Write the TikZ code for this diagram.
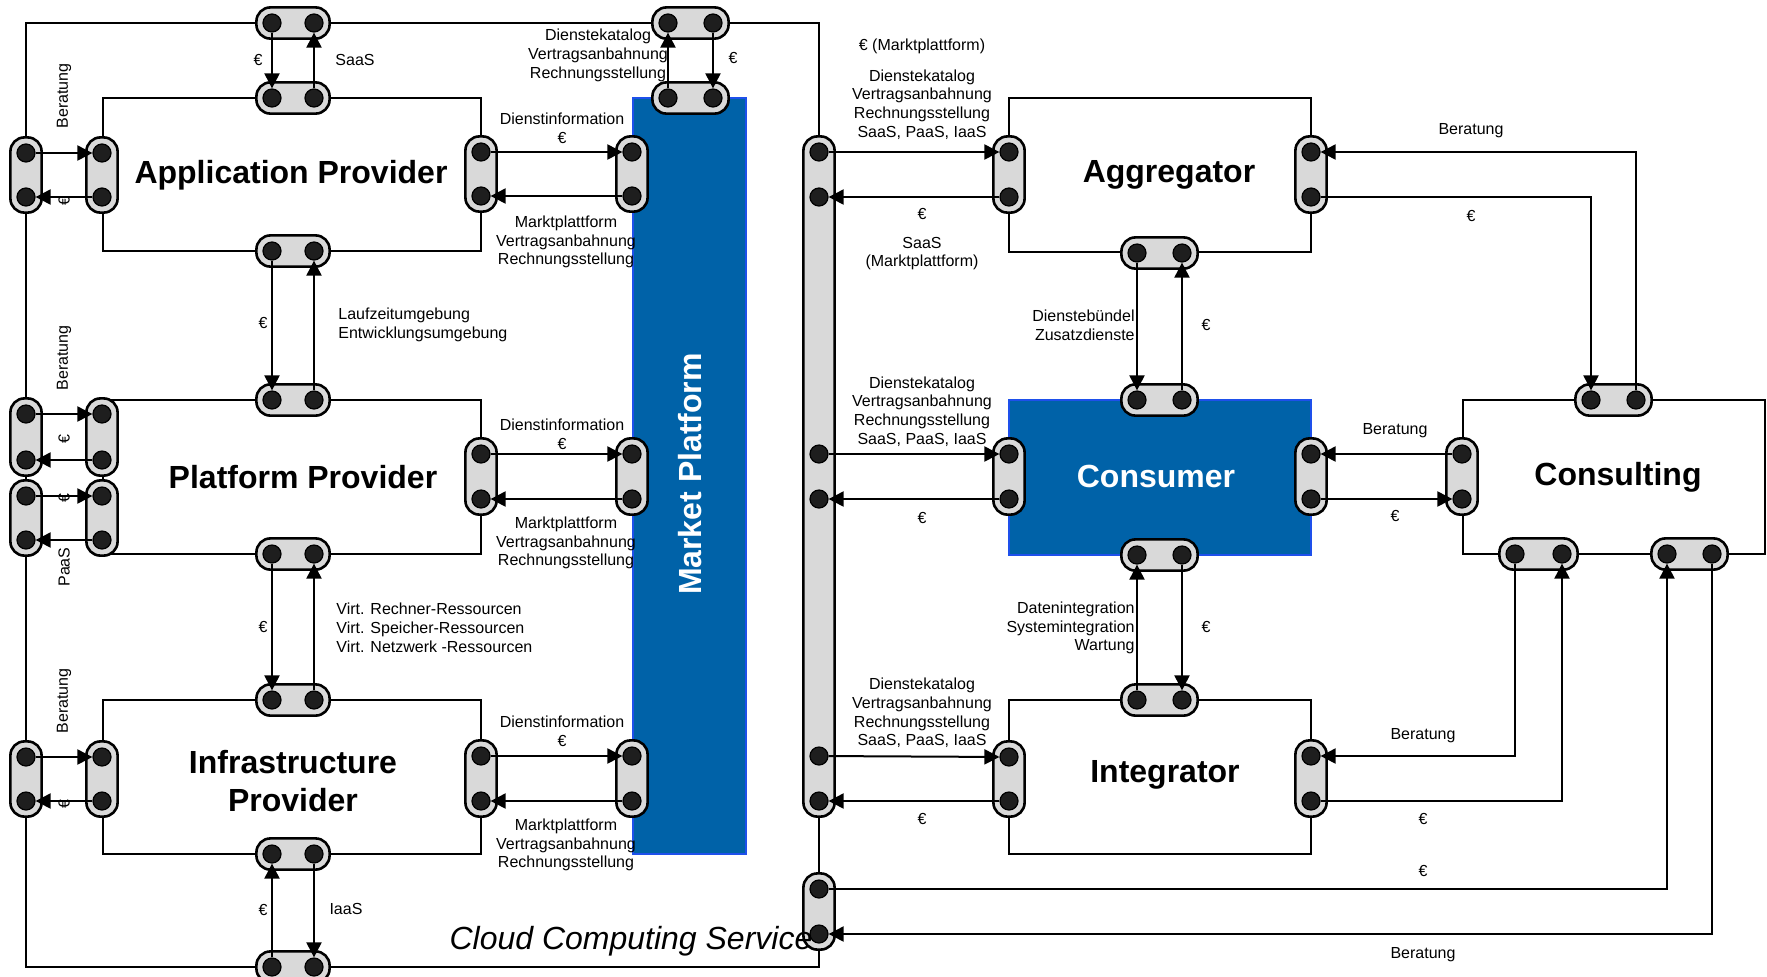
\documentclass[tikz,border=0pt]{standalone}
\usepackage{fontspec}
\setmainfont{Liberation Sans}
\usetikzlibrary{arrows.meta,fit}

\definecolor{portgrey}{RGB}{217,217,217}
\definecolor{dotblack}{RGB}{30,30,30}
\definecolor{mpblue}{RGB}{0,98,168}
\definecolor{mpedge}{RGB}{30,80,235}

\pgfdeclarelayer{frames}
\pgfdeclarelayer{ports}
\pgfsetlayers{frames,ports,main}

\tikzset{
  unit/.style={draw, rectangle, line width=1pt, inner sep=0pt},
  bluebox/.style={unit, fill=mpblue, draw=mpedge, line width=0.8pt},
  dot/.style={circle, fill=dotblack, draw=black, line width=0.6pt, minimum size=9pt, inner sep=0pt},
  pill/.style={draw, fill=portgrey, line width=1.3pt, rounded corners=7pt, inner sep=3pt},
  flow/.style={line width=1pt, -{Triangle[length=7.5pt,width=7.5pt]}},
  lbl/.style={font=\fontsize{8}{9.4}\selectfont, inner sep=0pt, align=center},
  title/.style={font=\fontsize{16}{19}\selectfont\bfseries, inner sep=0pt, align=center}
}

\newcommand{\hport}[4]{%
  \node[dot] (#1-1) at (#2,#4) {};
  \node[dot] (#1-2) at (#3,#4) {};
  \begin{pgfonlayer}{ports}
    \node[pill, fit=(#1-1)(#1-2)] (#1) {};
  \end{pgfonlayer}}
\newcommand{\vport}[4]{%
  \node[dot] (#1-1) at (#2,#3) {};
  \node[dot] (#1-2) at (#2,#4) {};
  \begin{pgfonlayer}{ports}
    \node[pill, fit=(#1-1)(#1-2)] (#1) {};
  \end{pgfonlayer}}

\begin{document}
\begin{tikzpicture}[x=0.5pt,y=-0.5pt]
\useasboundingbox (0,0) rectangle (1767,976);

% boxes
\begin{pgfonlayer}{frames}
  \node[unit, fit={(26,23) (819,967)}] (cloud) {};
  \node[unit, fit={(103,98) (481,251)}] (app) {};
  \node[unit, fit={(103,400) (481,554)}] (plat) {};
  \node[unit, fit={(103,700) (481,854)}] (infra) {};
  \node[bluebox, fit={(633,98) (746,854)}] (market) {};
  \node[unit, fit={(1009,98) (1311,252)}] (aggr) {};
  \node[bluebox, fit={(1009,400) (1311,555)}] (cons) {};
  \node[unit, fit={(1009,700) (1311,854)}] (integ) {};
  \node[unit, fit={(1463,400) (1765,554)}] (consult) {};
\end{pgfonlayer}

\node[title] (appT) at (291,175) {Application Provider};
\node[title] (platT) at (303,477) {Platform Provider};
\node[title] (infraT) at (293,781) {Infrastructure\\Provider};
\node[title, white, rotate=90] (marketT) at (690,474) {Market Platform};
\node[title] (aggrT) at (1169,175) {Aggregator};
\node[title, white] (consT) at (1156,476) {Consumer};
\node[title] (integT) at (1165,775) {Integrator};
\node[title] (consultT) at (1618,477) {Consulting};
\node[font=\fontsize{16}{19}\selectfont\itshape, inner sep=0pt] (cloudT) at (631,941) {Cloud Computing Service};

% ports left
\hport{ftA}{272}{314}{23}
\hport{apT}{272}{314}{98}
\hport{apB}{272}{314}{251}
\hport{plT}{272}{314}{400}
\hport{plB}{272}{314}{554}
\hport{inT}{272}{314}{700}
\hport{inB}{272}{314}{854}
\hport{fbot}{272}{314}{967}
\vport{flA}{26}{153}{197}
\vport{apL}{102}{153}{197}
\vport{flB}{26}{414}{460}
\vport{plL}{102}{414}{460}
\vport{flC}{26}{496}{540}
\vport{plM}{102}{496}{540}
\vport{flD}{26}{757}{801}
\vport{inL}{102}{757}{801}
\vport{apR}{481}{152}{196}
\vport{mpA}{632}{152}{196}
\vport{plR}{481}{454}{499}
\vport{mpB}{632}{454}{499}
\vport{inR}{481}{756}{801}
\vport{mpC}{632}{756}{801}
\hport{mpT}{668}{713}{98}
\hport{ftB}{668}{713}{23}

% ports right
\foreach \n/\y in {1/152,2/197,3/454,4/499,5/756,6/801}
  \node[dot] (bus-\n) at (819,\y) {};
\begin{pgfonlayer}{ports}
  \node[pill, fit=(bus-1)(bus-6)] (bus) {};
\end{pgfonlayer}
\vport{fr}{819}{889}{934}
\vport{agL}{1009}{152}{197}
\vport{agR}{1311}{152}{197}
\hport{agB}{1137}{1182}{253}
\hport{coT}{1137}{1182}{400}
\vport{coL}{1009}{454}{499}
\vport{coR}{1311}{454}{499}
\hport{coB}{1137}{1182}{555}
\hport{itT}{1137}{1182}{700}
\vport{itL}{1009}{757}{801}
\vport{itR}{1311}{756}{801}
\hport{csT}{1591}{1636}{400}
\vport{csL}{1462}{454}{499}
\hport{csB}{1515}{1562}{554}
\hport{csC}{1667}{1712}{554}

% flows left
\draw[flow] (ftA-1) -- (apT-1);
\draw[flow] (apT-2) -- (ftA-2);
\draw[flow] (flA-1) -- (apL-1);
\draw[flow] (apL-2) -- (flA-2);
\draw[flow] (apB-1) -- (plT-1);
\draw[flow] (plT-2) -- (apB-2);
\draw[flow] (flB-1) -- (plL-1);
\draw[flow] (plL-2) -- (flB-2);
\draw[flow] (flC-1) -- (plM-1);
\draw[flow] (plM-2) -- (flC-2);
\draw[flow] (plB-1) -- (inT-1);
\draw[flow] (inT-2) -- (plB-2);
\draw[flow] (flD-1) -- (inL-1);
\draw[flow] (inL-2) -- (flD-2);
\draw[flow] (fbot-1) -- (inB-1);
\draw[flow] (inB-2) -- (fbot-2);
\draw[flow] (apR-1) -- (mpA-1);
\draw[flow] (mpA-2) -- (apR-2);
\draw[flow] (plR-1) -- (mpB-1);
\draw[flow] (mpB-2) -- (plR-2);
\draw[flow] (inR-1) -- (mpC-1);
\draw[flow] (mpC-2) -- (inR-2);
\draw[flow] (mpT-1) -- (ftB-1);
\draw[flow] (ftB-2) -- (mpT-2);

% flows right
\draw[flow] (bus-1) -- (agL-1);
\draw[flow] (agL-2) -- (bus-2);
\draw[flow] (bus-3) -- (coL-1);
\draw[flow] (coL-2) -- (bus-4);
\draw[flow] (bus-5) -- (itL-1);
\draw[flow] (itL-2) -- (bus-6);
\draw[flow] (agB-1) -- (coT-1);
\draw[flow] (coT-2) -- (agB-2);
\draw[flow] (itT-1) -- (coB-1);
\draw[flow] (coB-2) -- (itT-2);
\draw[flow] (csT-2) |- (agR-1);
\draw[flow] (agR-2) -| (csT-1);
\draw[flow] (csL-1) -- (coR-1);
\draw[flow] (coR-2) -- (csL-2);
\draw[flow] (csB-1) |- (itR-1);
\draw[flow] (itR-2) -| (csB-2);
\draw[flow] (fr-1) -| (csC-1);
\draw[flow] (csC-2) |- (fr-2);

% labels left
\node[lbl] (eA) at (258,60) {€};
\node[lbl] (saas) at (355,60) {SaaS};
\node[lbl, rotate=90] (berA) at (64,96) {Beratung};
\node[lbl, rotate=90] (eB) at (64,201) {€};
\node[lbl, rotate=90] (berB) at (64,358) {Beratung};
\node[lbl, rotate=90] (eC) at (64,439) {€};
\node[lbl, rotate=90] (eD) at (64,498) {€};
\node[lbl, rotate=90] (paas) at (64,567) {PaaS};
\node[lbl, rotate=90] (berC) at (64,701) {Beratung};
\node[lbl, rotate=90] (eE) at (64,804) {€};
\node[lbl] (eF) at (263,323) {€};
\node[lbl, anchor=west, align=left] (env) at (338,325) {Laufzeitumgebung\\Entwicklungsumgebung};
\node[lbl] (eG) at (263,627) {€};
\node[lbl, anchor=west, align=left] (virt) at (336,628) {Virt. Rechner-Ressourcen\\Virt. Speicher-Ressourcen\\Virt. Netzwerk -Ressourcen};
\node[lbl] (eH) at (263,910) {€};
\node[lbl] (iaas) at (346,909) {IaaS};
\node[lbl] (infoA) at (562,128.5) {Dienstinformation\\€};
\node[lbl] (mktA) at (566,242) {Marktplattform\\Vertragsanbahnung\\Rechnungsstellung};
\node[lbl] (infoB) at (562,434) {Dienstinformation\\€};
\node[lbl] (mktB) at (566,543) {Marktplattform\\Vertragsanbahnung\\Rechnungsstellung};
\node[lbl] (infoC) at (562,731.5) {Dienstinformation\\€};
\node[lbl] (mktC) at (566,845) {Marktplattform\\Vertragsanbahnung\\Rechnungsstellung};
\node[lbl] (katA) at (598,55.5) {Dienstekatalog\\Vertragsanbahnung\\Rechnungsstellung};
\node[lbl] (eI) at (733,58) {€};

% labels right
\node[lbl] (eMp) at (922,46) {€ (Marktplattform)};
\node[lbl] (katB) at (922,104.5) {Dienstekatalog\\Vertragsanbahnung\\Rechnungsstellung\\SaaS, PaaS, IaaS};
\node[lbl] (eJ) at (922,214) {€};
\node[lbl] (saasMp) at (922,253.5) {SaaS\\(Marktplattform)};
\node[lbl] (katC) at (922,411.5) {Dienstekatalog\\Vertragsanbahnung\\Rechnungsstellung\\SaaS, PaaS, IaaS};
\node[lbl] (eK) at (922,518) {€};
\node[lbl] (katD) at (922,713) {Dienstekatalog\\Vertragsanbahnung\\Rechnungsstellung\\SaaS, PaaS, IaaS};
\node[lbl] (eL) at (922,819) {€};
\node[lbl, anchor=east, align=right] (bund) at (1135,325) {Dienstebündel\\Zusatzdienste};
\node[lbl] (eM) at (1206,325) {€};
\node[lbl, anchor=east, align=right] (daten) at (1135,628) {Datenintegration\\Systemintegration\\Wartung};
\node[lbl] (eN) at (1206,627) {€};
\node[lbl] (berD) at (1471,131) {Beratung};
\node[lbl] (eO) at (1471,216) {€};
\node[lbl] (berE) at (1395,431) {Beratung};
\node[lbl] (eP) at (1395,516) {€};
\node[lbl] (berF) at (1423,736) {Beratung};
\node[lbl] (eQ) at (1423,819) {€};
\node[lbl] (eR) at (1423,871) {€};
\node[lbl] (berG) at (1423,955) {Beratung};
\end{tikzpicture}
\end{document}
